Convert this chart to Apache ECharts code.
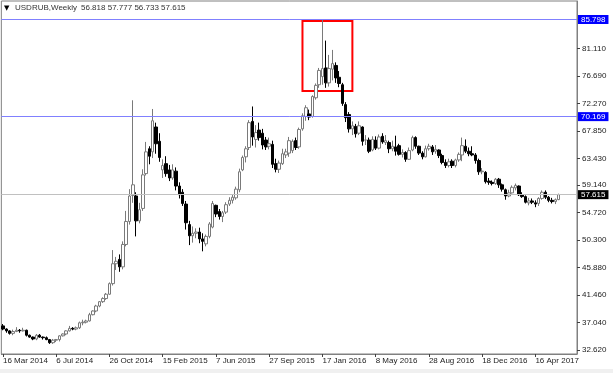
<!DOCTYPE html>
<html>
<head>
<meta charset="utf-8">
<script src="https://cdn.jsdelivr.net/npm/echarts@6/dist/echarts.min.js"></script>
<style>
html,body{margin:0;padding:0;background:#fff;}
#chart{width:613px;height:373px;}
</style>
</head>
<body>
<div id="chart"></div>
<script>
// ---- data ----
const symbolName = 'USDRUB,Weekly';
const lastQuote = '56.818 57.777 56.733 57.615';
const firstWeek = '2014-03-16';
const missingWeeks = ['2016-12-25'];
const futurePadding = 5;

const open = [36.5,36.0,35.7,35.3,35.6,35.8,35.7,35.8,35.0,34.7,34.4,35.0,34.7,34.6,34.3,33.8,34.2,34.3,34.9,35.2,
35.7,36.1,36.0,36.2,37.0,37.1,37.3,38.3,38.9,39.7,40.4,40.9,41.6,43.3,46.5,47.2,46.0,49.6,53.3,57.5,
57.4,53.4,55.4,61.0,65.0,64.5,68.5,66.2,61.6,62.6,61.6,60.3,61.4,59.0,58.0,56.1,52.8,51.0,51.4,51.6,
50.5,49.7,50.9,52.4,55.9,54.9,54.1,54.8,56.1,56.7,57.1,58.4,61.6,63.7,65.2,69.4,66.5,68.0,67.5,66.4,
65.4,65.7,62.6,61.7,62.6,64.0,64.3,64.7,66.3,65.3,68.2,70.2,70.6,70.2,73.2,75.3,76.6,78.0,75.6,77.8,
78.4,76.5,75.3,72.1,70.5,68.2,68.6,67.5,68.5,66.4,66.4,64.8,66.4,65.1,67.0,66.0,66.0,65.0,65.3,65.5,
64.1,64.4,63.3,64.8,66.8,65.4,64.3,63.7,65.0,65.3,64.6,64.8,63.9,62.8,62.3,63.0,62.3,63.2,64.0,65.4,
64.6,64.2,64.0,63.1,61.3,61.2,59.8,59.6,59.4,60.1,59.2,58.4,57.4,57.9,58.7,59.0,57.6,57.3,56.3,56.6,
56.3,56.2,57.0,58.0,57.2,56.7,56.5,56.818];
const high = [36.8,36.1,35.8,35.9,36.3,36.0,36.2,35.9,35.1,34.8,35.2,35.2,34.8,34.8,34.4,34.4,34.4,35.0,35.3,35.8,
36.5,36.3,36.4,37.2,37.5,37.5,38.6,39.0,39.9,40.5,41.1,41.8,43.5,48.7,47.6,48.0,50.1,55.0,58.5,72.8,
58.0,56.3,61.7,66.1,65.4,71.4,69.2,67.5,63.3,63.8,62.4,62.5,62.0,59.6,58.5,56.6,53.4,52.5,52.2,52.3,
51.4,51.2,53.2,56.6,56.0,55.3,55.0,56.4,57.2,57.6,58.9,61.8,63.9,65.4,69.6,71.8,68.8,69.2,68.2,66.9,
66.8,66.3,63.4,63.1,65.0,65.0,66.9,66.5,66.8,68.4,70.7,72.0,71.3,73.6,75.5,78.0,85.8,82.4,80.1,80.9,
78.9,77.5,75.6,72.5,70.9,69.4,69.0,69.4,68.6,67.2,66.8,67.0,67.0,67.3,67.5,67.2,66.3,66.3,67.1,65.8,
64.9,64.6,65.2,67.1,67.0,65.5,64.6,65.5,65.8,65.6,65.6,64.9,64.2,63.3,63.4,63.3,63.4,64.4,66.8,66.5,
65.2,65.4,64.3,63.4,61.9,61.4,60.3,59.9,60.3,60.3,59.4,58.6,58.4,59.1,59.4,59.1,58.0,57.5,57.1,57.0,
56.7,57.2,58.3,58.3,57.4,57.1,57.0,57.777];
const low = [35.8,35.4,35.1,35.0,35.5,35.4,35.6,34.8,34.6,34.2,34.2,34.6,34.3,34.2,33.6,33.6,33.9,34.0,34.8,35.0,
35.6,35.8,35.8,36.0,36.6,36.9,37.2,38.2,38.7,39.5,40.2,40.7,41.5,43.0,45.5,45.2,45.6,49.3,52.8,56.3,
50.9,53.0,55.0,60.7,62.5,63.5,64.2,62.9,60.3,60.5,59.8,60.0,58.3,57.0,55.8,52.0,49.5,49.9,50.6,49.8,
48.5,49.3,50.6,52.2,54.0,53.6,53.2,54.5,55.8,56.2,56.8,58.0,61.4,62.8,64.8,65.5,65.2,66.3,64.9,64.8,
64.9,61.9,61.2,61.1,62.4,63.5,63.7,64.3,64.8,65.0,67.9,69.5,69.6,70.0,72.9,74.8,75.3,74.8,75.0,76.0,
75.6,74.9,71.9,69.3,67.6,67.2,66.8,67.2,65.5,65.6,64.3,64.6,64.8,64.9,65.8,65.6,64.3,64.6,63.9,63.9,
63.6,62.9,63.2,64.6,65.0,64.0,63.3,63.6,64.7,64.0,64.2,63.5,62.5,61.9,62.0,61.9,62.0,62.9,63.0,64.3,
63.8,63.8,62.6,60.8,60.9,59.4,59.2,59.1,59.2,58.7,58.1,56.8,57.2,57.8,58.3,57.4,57.1,56.2,55.9,56.1,
55.6,55.8,56.8,56.9,56.4,56.2,56.1,56.733];
const close = [36.0,35.7,35.3,35.6,35.8,35.7,35.8,35.0,34.7,34.4,35.0,34.7,34.6,34.3,33.8,34.2,34.3,34.9,35.2,35.7,
36.1,36.0,36.2,37.0,37.1,37.3,38.3,38.9,39.7,40.4,40.9,41.6,43.3,46.5,46.9,46.0,49.6,53.3,57.4,59.2,
53.4,55.2,60.8,64.5,63.8,69.5,65.8,63.6,62.3,61.0,60.3,61.6,59.0,57.6,56.2,53.1,51.0,51.4,51.6,50.5,
50.1,50.9,52.9,56.2,54.5,54.1,54.7,56.0,56.7,57.2,58.5,61.3,63.6,65.0,69.2,66.9,67.6,66.8,65.6,65.3,
65.8,62.5,61.7,62.7,64.2,64.5,66.3,66.2,65.2,68.1,70.3,71.6,70.1,73.4,75.2,77.6,77.9,75.6,77.9,78.7,
76.4,75.5,72.3,70.0,68.2,68.7,67.4,68.7,66.2,66.4,64.6,66.5,65.1,66.9,66.1,66.3,65.0,65.4,64.6,64.1,
64.4,63.3,64.7,66.8,65.4,64.3,63.7,65.0,65.4,64.5,64.9,63.9,62.8,62.3,62.9,62.3,63.2,64.1,65.5,64.6,
64.2,64.0,63.1,61.3,61.4,59.7,59.6,59.4,60.1,59.2,58.5,57.4,57.9,58.8,59.1,57.6,57.3,56.4,56.6,56.4,
56.1,57.0,58.0,57.2,56.7,56.5,56.8,57.615];

const priceTicks = [32.62,37.04,41.46,45.88,50.30,54.72,59.14,63.43,67.85,72.27,76.69,81.11];
const blueLevels = [85.798, 70.169];
const lastPrice = 57.615;
const boxFrom = [89.7, 85.56];   // [bar index, price]
const boxTo = [105.4, 74.29];
const labelEvery = 16;

// ---- build categories (weekly bars, Sunday-based) ----
const monthNames = ['Jan','Feb','Mar','Apr','May','Jun','Jul','Aug','Sep','Oct','Nov','Dec'];
function iso(d){return d.toISOString().slice(0,10);}
const weeks = [];
{
  let d = new Date(firstWeek + 'T00:00:00Z');
  while (weeks.length < open.length) {
    const s = iso(d);
    if (missingWeeks.indexOf(s) < 0) weeks.push(s);
    d = new Date(d.getTime() + 7*86400000);
  }
}
const categories = weeks.concat(new Array(futurePadding).fill(''));
function fmtDate(s){
  if(!s) return '';
  const p = s.split('-');
  return parseInt(p[2],10) + ' ' + monthNames[parseInt(p[1],10)-1] + ' ' + p[0];
}
const candles = open.map((o,i)=>[o, close[i], low[i], high[i]]);
const showIdx = (idx)=> idx % labelEvery === 0 && idx < weeks.length;
const fmtLevel = (p)=>{
  const v = (p.data && p.data.yAxis != null) ? p.data.yAxis : p.value;
  return Number(v).toFixed(3);
};

const FONT = '"Liberation Sans", Arial, sans-serif';
const chart = echarts.init(document.getElementById('chart'), null, {renderer:'canvas'});
chart.setOption({
  animation:false,
  backgroundColor:'#ffffff',
  grid:{left:0, right:36, top:1, bottom:19, show:true, borderColor:'#808080', borderWidth:1, backgroundColor:'#ffffff'},
  xAxis:{
    type:'category', data:categories, boundaryGap:true,
    axisLine:{show:true, lineStyle:{color:'#808080'}},
    axisTick:{show:true, interval:showIdx, alignWithLabel:true, length:3, lineStyle:{color:'#404040'}},
    axisLabel:{show:true, interval:showIdx, formatter:fmtDate, align:'left', margin:3,
      fontSize:8, fontFamily:FONT, color:'#222'},
    splitLine:{show:false}
  },
  yAxis:{
    type:'value', position:'right', min:31.98, max:88.77, scale:true,
    axisLine:{show:true, lineStyle:{color:'#808080'}},
    axisTick:{show:true, customValues:priceTicks, length:3, lineStyle:{color:'#404040'}},
    axisLabel:{show:true, customValues:priceTicks, formatter:(v)=>Number(v).toFixed(3), margin:5,
      fontSize:8, fontFamily:FONT, color:'#222'},
    splitLine:{show:false}
  },
  series:[{
    type:'candlestick',
    data:candles,
    barWidth:3,
    itemStyle:{color:'#ffffff', color0:'#000000', borderColor:'#7a7a7a', borderColor0:'#000000', borderWidth:1},
    markLine:{
      silent:true, symbol:'none', animation:false, precision:3,
      label:{show:true, position:'end', distance:1, formatter:fmtLevel,
        fontSize:8, fontFamily:FONT, padding:[1,3,0,3]},
      data:[
        {yAxis:blueLevels[0], lineStyle:{color:'#8080ff', width:1, type:'solid'},
          label:{backgroundColor:'#0000ff', color:'#ffffff'}},
        {yAxis:blueLevels[1], lineStyle:{color:'#8080ff', width:1, type:'solid'},
          label:{backgroundColor:'#0000ff', color:'#ffffff'}},
        {yAxis:lastPrice, lineStyle:{color:'#c0c0c0', width:1, type:'solid'},
          label:{backgroundColor:'#000000', color:'#ffffff'}}
      ]
    },
    markArea:{
      silent:true,
      itemStyle:{color:'rgba(0,0,0,0)', borderColor:'#ff0000', borderWidth:2},
      data:[[{coord:boxFrom},{coord:boxTo}]]
    }
  }],
  graphic:[
    {type:'rect', left:0, top:369, shape:{width:613, height:4}, style:{fill:'#f0f0f0'}, silent:true},
    {type:'text', left:4, top:5, style:{text:'\u25BC', fontSize:7, fill:'#000', fontFamily:'"DejaVu Sans", sans-serif'}},
    {type:'text', left:15, top:4, style:{text:symbolName, fontSize:8, fill:'#333', fontFamily:FONT}},
    {type:'text', left:81, top:4, style:{text:lastQuote, fontSize:8, fill:'#333', fontFamily:FONT}}
  ]
});
</script>
</body>
</html>
